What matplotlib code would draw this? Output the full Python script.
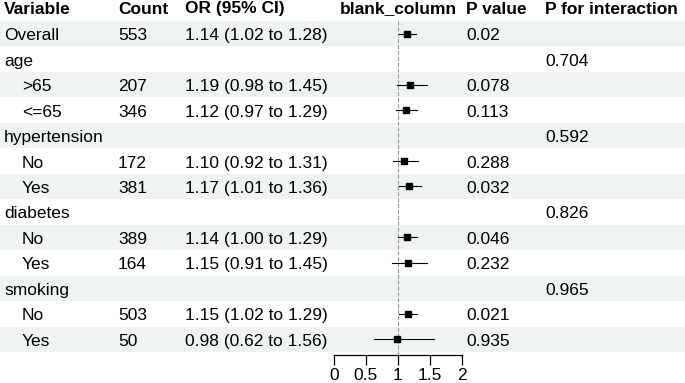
import matplotlib.pyplot as plt

plt.rcParams['font.family'] = ['Liberation Sans', 'DejaVu Sans']

# table content
labels = ["Overall", "age", ">65", "<=65", "hypertension", "No", "Yes",
          "diabetes", "No", "Yes", "smoking", "No", "Yes"]
indent = [False, False, True, True, False, True, True,
          False, True, True, False, True, True]
counts = ["553", "", "207", "346", "", "172", "381", "", "389", "164", "", "503", "50"]
or_text = ["1.14 (1.02 to 1.28)", "", "1.19 (0.98 to 1.45)", "1.12 (0.97 to 1.29)", "",
           "1.10 (0.92 to 1.31)", "1.17 (1.01 to 1.36)", "",
           "1.14 (1.00 to 1.29)", "1.15 (0.91 to 1.45)", "",
           "1.15 (1.02 to 1.29)", "0.98 (0.62 to 1.56)"]
p_value = ["0.02", "", "0.078", "0.113", "", "0.288", "0.032", "",
           "0.046", "0.232", "", "0.021", "0.935"]
p_inter = ["", "0.704", "", "", "0.592", "", "", "0.826", "", "", "0.965", "", ""]

# forest values (None = header row without estimate)
est = [1.14, None, 1.19, 1.12, None, 1.10, 1.17, None, 1.14, 1.15, None, 1.15, 0.98]
lo = [1.02, None, 0.98, 0.97, None, 0.92, 1.01, None, 1.00, 0.91, None, 1.02, 0.62]
hi = [1.28, None, 1.45, 1.29, None, 1.31, 1.36, None, 1.29, 1.45, None, 1.29, 1.56]

headers = ["Variable", "Count", "OR (95% CI)", "blank_column", "P value", "P for interaction"]
header_x = [4, 118, 185, 340, 466, 545]

W, H = 685, 383
top, rh = 21.0, 25.46
fs = 12.5

fig = plt.figure(figsize=(W / 100, H / 100), dpi=100)
ax0 = fig.add_axes([0, 0, 1, 1])
ax0.set_xlim(0, W)
ax0.set_ylim(H, 0)
ax0.axis('off')

for hx, h in zip(header_x, headers):
    ax0.text(hx, 13.5, h, fontsize=fs, fontweight='bold', va='baseline', ha='left')

centers = []
for i in range(len(labels)):
    y0 = top + i * rh
    yc = y0 + rh / 2
    centers.append(yc)
    if i % 2 == 0:
        ax0.fill_between([0, W], y0, y0 + rh, color='#eff3f2', lw=0, zorder=0)
    yb = yc + 6.5
    ax0.text(22 if indent[i] else 4, yb, labels[i], fontsize=fs, va='baseline')
    ax0.text(118, yb, counts[i], fontsize=fs, va='baseline')
    ax0.text(185, yb, or_text[i], fontsize=fs, va='baseline')
    ax0.text(466, yb, p_value[i], fontsize=fs, va='baseline')
    ax0.text(545, yb, p_inter[i], fontsize=fs, va='baseline')

# forest panel
axis_y = 355
ax = fig.add_axes([334 / W, 0, 128 / W, 1])
ax.set_xlim(0, 2)
ax.set_ylim(H, 0)
ax.patch.set_alpha(0)
for s in ['top', 'right', 'left']:
    ax.spines[s].set_visible(False)
ax.spines['bottom'].set_position(('data', axis_y))
ax.spines['bottom'].set_linewidth(0.9)
ax.set_yticks([])
ax.set_xticks([0, 0.5, 1, 1.5, 2])
ax.set_xticklabels(["0", "0.5", "1", "1.5", "2"])
ax.tick_params(axis='x', length=7, width=0.9, labelsize=fs, pad=2.5)

ax.plot([1, 1], [top, axis_y], ls='--', color='#9a9a9a', lw=0.8)
for i, yc in enumerate(centers):
    if est[i] is None:
        continue
    ax.plot([lo[i], hi[i]], [yc, yc], color='black', lw=0.8)
    ax.plot(est[i], yc, marker='s', color='black', ms=3.8)

fig.savefig('out.png', dpi=100)
